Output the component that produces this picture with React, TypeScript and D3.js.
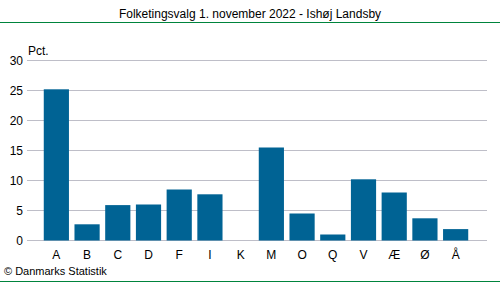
import React from "react";
import * as d3 from "d3";

const categories = ["A", "B", "C", "D", "F", "I", "K", "M", "O", "Q", "V", "Æ", "Ø", "Å"];
const values = [25.2, 2.7, 5.9, 6.0, 8.5, 7.7, 0, 15.5, 4.5, 1.0, 10.2, 8.0, 3.7, 1.9];
const yTicks = [0, 5, 10, 15, 20, 25, 30];
const title = "Folketingsvalg 1. november 2022 - Ishøj Landsby";
const unit = "Pct.";
const credit = "© Danmarks Statistik";

export default function App() {
  const W = 500, H = 282;
  const gridX0 = 27, gridX1 = 487;
  const x = d3.scaleBand<string>().domain(categories).range([41, 471]).paddingInner(0.18).paddingOuter(0.09);
  const y = d3.scaleLinear().domain([0, 30]).range([240.5, 60.5]);
  const font = "'Liberation Sans', Arial, sans-serif";
  return (
    <svg width={W} height={H} style={{ position: "absolute", left: 0, top: 0 }} fontFamily={font}>
      <rect x={0} y={0} width={W} height={H} fill="#fff" />
      <text x={250} y={18} textAnchor="middle" fontSize={12} fill="#000">{title}</text>
      <line x1={0} x2={W} y1={22.5} y2={22.5} stroke="#00843D" strokeWidth={1} />
      {yTicks.map(t => (
        <g key={t}>
          <line x1={gridX0} x2={gridX1} y1={Math.round(y(t)) - 0.5} y2={Math.round(y(t)) - 0.5} stroke="#BEBEC8" strokeWidth={1} />
          <text x={23} y={y(t) + 4} textAnchor="end" fontSize={12} fill="#000">{t}</text>
        </g>
      ))}
      <text x={28} y={55} fontSize={12} fill="#000">{unit}</text>
      {categories.map((c, i) => (
        <rect key={c} x={x(c)} y={y(values[i])} width={x.bandwidth()} height={y(0) - y(values[i])} fill="#006394" />
      ))}
      {categories.map(c => (
        <text key={c} x={(x(c) as number) + x.bandwidth() / 2} y={259} textAnchor="middle" fontSize={12} fill="#000">{c}</text>
      ))}
      <text x={4} y={275} fontSize={11} fill="#000">{credit}</text>
      <line x1={0} x2={W} y1={281.5} y2={281.5} stroke="#00843D" strokeWidth={1} />
    </svg>
  );
}
